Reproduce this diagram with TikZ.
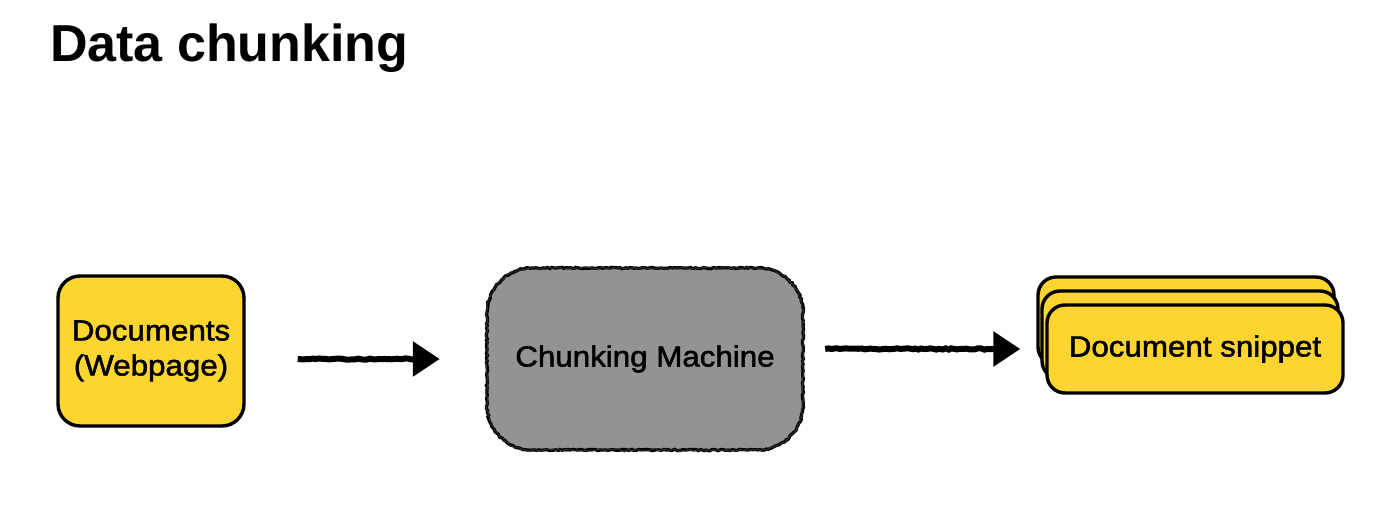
\documentclass[tikz,border=0pt]{standalone}
\usepackage{fontspec}
\setmainfont{Liberation Sans}
\newfontfamily\medfont[FakeBold=1.8,FakeStretch=1.08]{Liberation Sans}
\usetikzlibrary{arrows.meta,decorations.pathmorphing,calc}
\definecolor{docyellow}{HTML}{FCD530}
\definecolor{machgray}{HTML}{939393}
\tikzset{
  yellowbox/.style={draw=black, line width=3.4pt, fill=docyellow, rounded corners=22pt, inner sep=0pt, align=center, font=\medfont\fontsize{29}{35}\selectfont},
  snipbox/.style={draw=black, line width=3.4pt, fill=docyellow, rounded corners=18pt, minimum width=296pt, minimum height=88pt, inner sep=0pt, font=\medfont\fontsize{29}{34}\selectfont},
  machbox/.style={fill=machgray, rounded corners=45pt, minimum width=316pt, minimum height=182pt, inner sep=0pt, font=\medfont\fontsize{29}{34}\selectfont,
    postaction={draw=black, line width=3.2pt, sharp corners, decorate, decoration={random steps, segment length=2pt, amplitude=0.7pt}},
    postaction={draw=black!85, line width=1.4pt, sharp corners, decorate, decoration={random steps, segment length=3pt, amplitude=1.1pt}}},
  sketcharrow/.style={line width=6pt, -{Triangle[length=27pt,width=34pt]},
    decorate, decoration={random steps, segment length=3pt, amplitude=0.7pt, post length=24pt}}
}
\begin{document}
\begin{tikzpicture}[x=1pt,y=1pt]
\useasboundingbox (0,0) rectangle (1400,513);
\node[anchor=base west, font=\bfseries\fontsize{52}{60}\selectfont, inner sep=0pt] (title) at (50,451) {Data chunking};
\node[yellowbox, minimum width=186pt, minimum height=150pt] (doc) at (151,162) {Documents\\(Webpage)};
\node[machbox] (mach) at (645,154) {Chunking Machine};
\node[snipbox] (snipback) at (1186,192) {};
\node[snipbox] (snipmid) at (1190,178) {};
\node[snipbox] (snip) at (1195,164) {\raisebox{-4pt}{Document snippet}};
\draw[sketcharrow] ($(doc.east |- mach.west)+(52pt,0)$) -- ($(mach.west)-(47pt,0)$);
\draw[sketcharrow] ($(mach.east |- snip.west)+(22pt,0)$) -- ($(snip.west)-(25pt,0)$);
\end{tikzpicture}
\end{document}
